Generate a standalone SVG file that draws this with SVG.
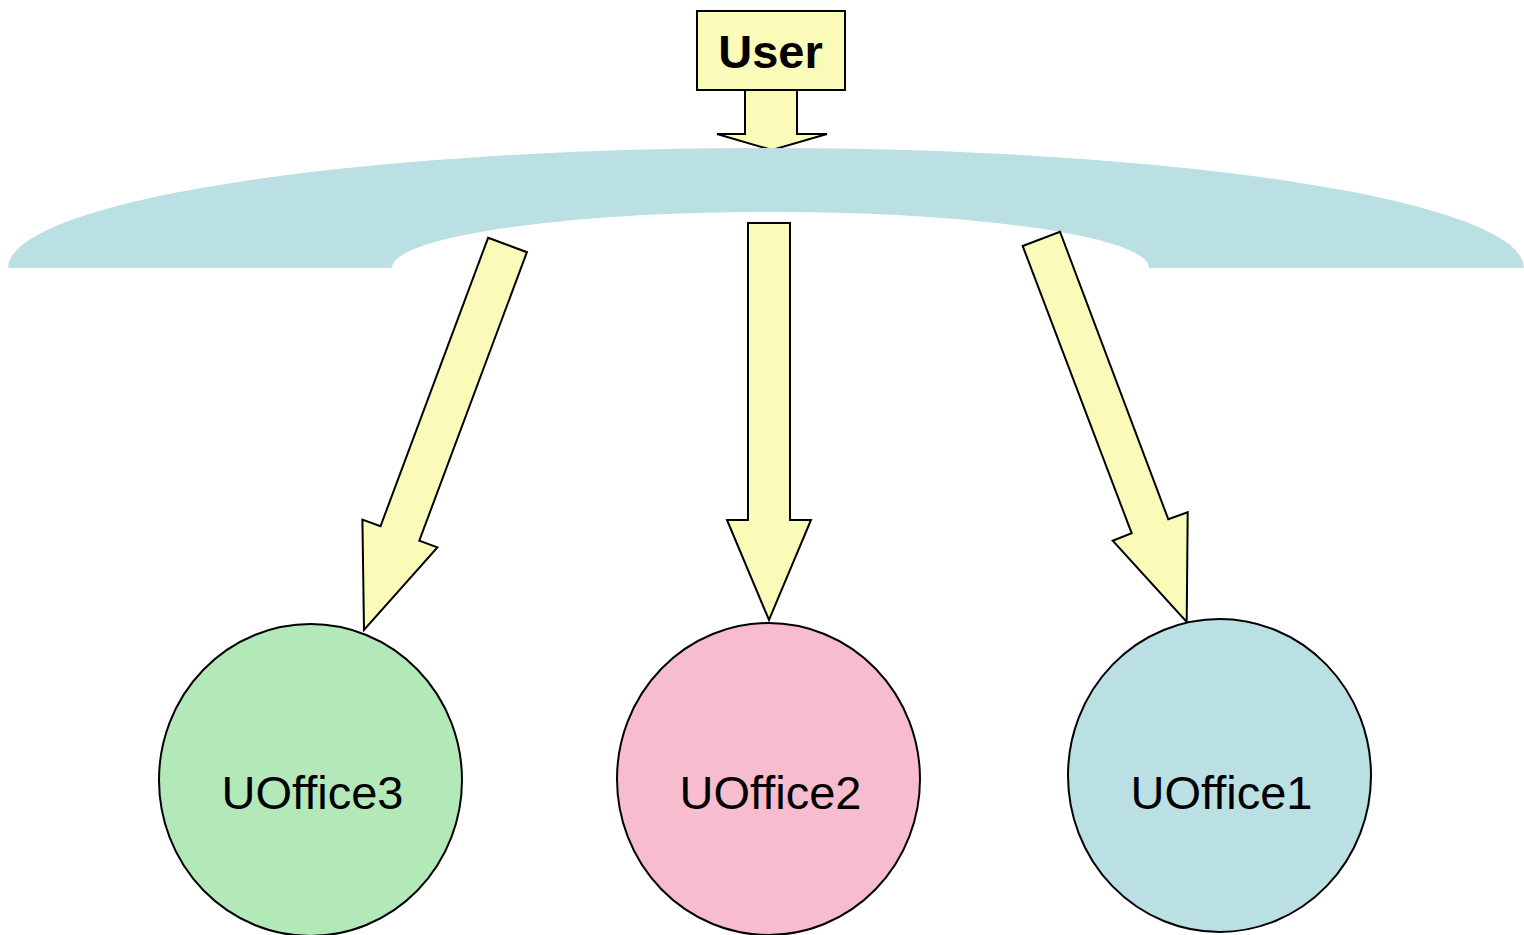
<svg xmlns="http://www.w3.org/2000/svg" width="1524" height="935" viewBox="0 0 1524 935">
<style>
.arrow{fill:#fafbb9;stroke:#000;stroke-width:2;stroke-linejoin:miter}
.node{stroke:#000;stroke-width:2}
.lbl{font-family:"Liberation Sans",Arial,sans-serif;font-size:47px;text-anchor:middle;fill:#000}
</style>
<rect width="1524" height="935" fill="#fff"/>
<g id="connectors">
<polygon class="arrow" points="745,90 797,90 797,134 827,134 772,150 717,134 745,134"/>
</g>
<g id="network">
<path d="M8,268 A758,120 0 0 1 1524,268 L1149,268 A378,56 0 0 0 392,268 Z" fill="#bbe0e3"/>
</g>
<g id="user">
<rect x="697" y="11" width="148" height="79" fill="#fafbb9" stroke="#000" stroke-width="2"/>
<text x="770.5" y="68" class="lbl" font-weight="bold">User</text>
</g>
<g id="connectors2">
<polygon class="arrow" points="488.1,237.8 526.9,252.2 419.3,540.7 437.4,547.4 364,630 362.4,519.6 380.5,526.3"/>
<polygon class="arrow" points="748,223 790,223 790,520 811,520 769,620 727,520 748,520"/>
<polygon class="arrow" points="1022.7,246 1060,231.7 1168.3,519.3 1187.7,512.3 1186.7,622 1112.7,540.7 1131.7,533.3"/>
</g>
<g id="uoffice3">
<ellipse class="node" cx="310.5" cy="780" rx="151.5" ry="156" fill="#b3e9b9"/>
<text x="312.5" y="809" class="lbl">UOffice3</text>
</g>
<g id="uoffice2">
<ellipse class="node" cx="768.5" cy="779" rx="151.5" ry="156" fill="#f7bdce"/>
<text x="770.5" y="809" class="lbl">UOffice2</text>
</g>
<g id="uoffice1">
<ellipse class="node" cx="1219.5" cy="775.5" rx="151.5" ry="156.5" fill="#bbe0e3"/>
<text x="1221.5" y="809" class="lbl">UOffice1</text>
</g>
</svg>
